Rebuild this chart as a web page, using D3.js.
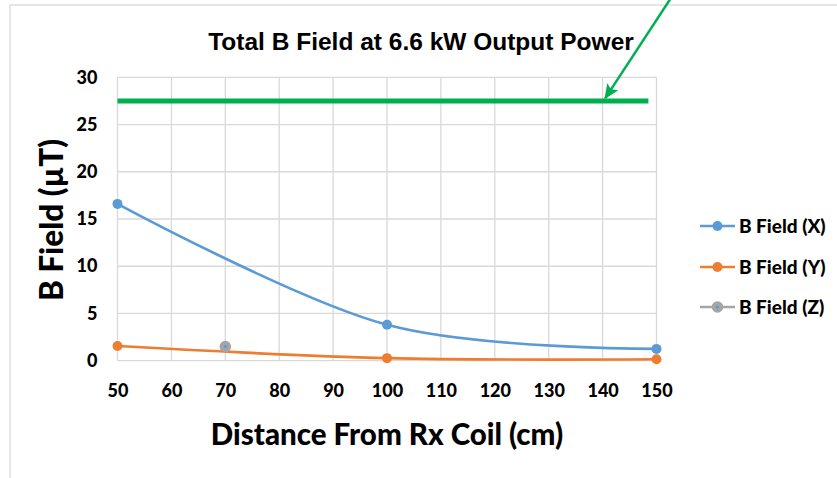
<!DOCTYPE html>
<html>
<head>
<meta charset="utf-8">
<script src="https://cdn.jsdelivr.net/npm/d3@7"></script>
<style>
body { margin: 0; background: #fff; }
svg { display: block; }
</style>
</head>
<body>
<script>
// values
var xTicks = [50, 60, 70, 80, 90, 100, 110, 120, 130, 140, 150]
var yTicks = [0, 5, 10, 15, 20, 25, 30]
var distX = [50, 100, 150]
var fieldX = [16.6, 3.8, 1.25]
var distY = [50, 100, 150]
var fieldY = [1.55, 0.27, 0.15]
var distZ = [70]
var fieldZ = [1.5]
var limitX = [50, 148.5]
var limitY = [27.5, 27.5]
var arrowFrom = [152.8, 38.5]
var arrowTo = [140.5, 27.8]
var seriesNames = ["B Field (X)", "B Field (Y)", "B Field (Z)"]
var seriesColors = ["#5B9BD5", "#ED7D31", "#A5A5A5"]

var W = 837, H = 478
var svg = d3.select("body").append("svg")
    .attr("width", W)
    .attr("height", H)

// chart frame
svg.append("rect")
    .attr("x", 10).attr("y", 5)
    .attr("width", 900).attr("height", 600)
    .attr("fill", "none")
    .attr("stroke", "#d9d9d9")
    .attr("stroke-width", 1.3)

var x = d3.scaleLinear().domain([50, 150]).range([117.5, 656.5])
var y = d3.scaleLinear().domain([0, 30]).range([360.7, 77.3])

var grid = svg.append("g")
grid.selectAll(".gy").data(yTicks).enter().append("line")
    .attr("x1", x(50)).attr("x2", x(150))
    .attr("y1", d => y(d)).attr("y2", d => y(d))
    .attr("stroke", "#d9d9d9").attr("stroke-width", 1.3)
grid.selectAll(".gx").data(xTicks).enter().append("line")
    .attr("x1", d => x(d)).attr("x2", d => x(d))
    .attr("y1", y(0)).attr("y2", y(30))
    .attr("stroke", "#d9d9d9").attr("stroke-width", 1.3)

// tick labels
var xAxis = svg.append("g")
    .attr("transform", "translate(0," + (y(0) + 24) + ")")
    .call(d3.axisBottom(x).tickValues(xTicks).tickSize(0).tickPadding(0))
xAxis.select(".domain").remove()
xAxis.selectAll("text")
    .attr("dy", "0.71em")
    .style("font-family", "Lato")
    .style("font-weight", "900")
    .style("font-size", "18px")
    .attr("fill", "#000")

var yAxis = svg.append("g")
    .attr("transform", "translate(" + (x(50) - 20) + ",0)")
    .call(d3.axisLeft(y).tickValues(yTicks).tickSize(0).tickPadding(0))
yAxis.select(".domain").remove()
yAxis.selectAll("text")
    .style("font-family", "Lato")
    .style("font-weight", "900")
    .style("font-size", "18px")
    .attr("fill", "#000")

// limit line
svg.append("line")
    .attr("x1", x(limitX[0])).attr("x2", x(limitX[1]))
    .attr("y1", y(limitY[0])).attr("y2", y(limitY[1]))
    .attr("stroke", "#00B050")
    .attr("stroke-width", 5)

var line = d3.line()
    .x(d => x(d[0]))
    .y(d => y(d[1]))
    .curve(d3.curveCardinal.tension(0))

var series = [
    d3.zip(distX, fieldX),
    d3.zip(distY, fieldY),
    d3.zip(distZ, fieldZ)
]

// Y first, then X on top
;[1, 0].forEach(function(i) {
    svg.append("path")
        .datum(series[i])
        .attr("d", line)
        .attr("fill", "none")
        .attr("stroke", seriesColors[i])
        .attr("stroke-width", 2.6)
})
;[1, 0].forEach(function(i) {
    svg.selectAll(".m" + i).data(series[i]).enter().append("circle")
        .attr("cx", d => x(d[0]))
        .attr("cy", d => y(d[1]))
        .attr("r", 5)
        .attr("fill", seriesColors[i])
})
svg.selectAll(".mz").data(series[2]).enter().append("circle")
    .attr("cx", d => x(d[0]))
    .attr("cy", d => y(d[1]))
    .attr("r", 5.8)
    .attr("fill", seriesColors[2])
svg.selectAll(".mzc").data(series[2]).enter().append("circle")
    .attr("cx", d => x(d[0]))
    .attr("cy", d => y(d[1]))
    .attr("r", 1.6)
    .attr("fill", seriesColors[0])

// arrow annotation
svg.append("defs").append("marker")
    .attr("id", "head")
    .attr("viewBox", "0 0 10 10")
    .attr("refX", 9).attr("refY", 5)
    .attr("markerWidth", 15).attr("markerHeight", 13)
    .attr("markerUnits", "userSpaceOnUse")
    .attr("orient", "auto")
    .attr("preserveAspectRatio", "none")
    .append("path")
    .attr("d", "M0,0 L10,5 L0,10 L2,5 z")
    .attr("fill", "#00B050")
svg.append("line")
    .attr("x1", x(arrowFrom[0])).attr("y1", y(arrowFrom[1]))
    .attr("x2", x(arrowTo[0])).attr("y2", y(arrowTo[1]))
    .attr("stroke", "#00B050")
    .attr("stroke-width", 2.5)
    .attr("marker-end", "url(#head)")

// titles
svg.append("text")
    .attr("x", 421).attr("y", 50)
    .attr("text-anchor", "middle")
    .style("font-family", "Liberation Sans")
    .style("font-weight", "bold")
    .style("font-size", "24.5px")
    .text("Total B Field at 6.6 kW Output Power")

svg.append("text")
    .attr("x", 387).attr("y", 445)
    .attr("text-anchor", "middle")
    .style("font-family", "Lato")
    .style("font-weight", "900")
    .style("font-size", "29.5px")
    .text("Distance From Rx Coil (cm)")

svg.append("text")
    .attr("transform", "translate(63,220) rotate(-90)")
    .attr("text-anchor", "middle")
    .style("font-family", "Lato")
    .style("font-weight", "900")
    .style("font-size", "31.5px")
    .text("B Field (\u00b5T)")

// legend
var legend = svg.append("g")
var rows = [226, 267, 307]
seriesNames.forEach(function(name, i) {
    var g = legend.append("g").attr("transform", "translate(700," + rows[i] + ")")
    g.append("line")
        .attr("x1", 0).attr("x2", 35)
        .attr("stroke", seriesColors[i]).attr("stroke-width", 2.6)
    g.append("circle")
        .attr("cx", 17.5).attr("r", i == 2 ? 5.8 : 5)
        .attr("fill", seriesColors[i])
    if (i == 2) {
        g.append("circle").attr("cx", 17.5).attr("r", 1.6).attr("fill", seriesColors[0])
    }
    g.append("text")
        .attr("x", 39).attr("dy", "0.36em")
        .style("font-family", "Lato")
        .style("font-weight", "900")
        .style("font-size", "19px")
        .text(name)
})
</script>
</body>
</html>
